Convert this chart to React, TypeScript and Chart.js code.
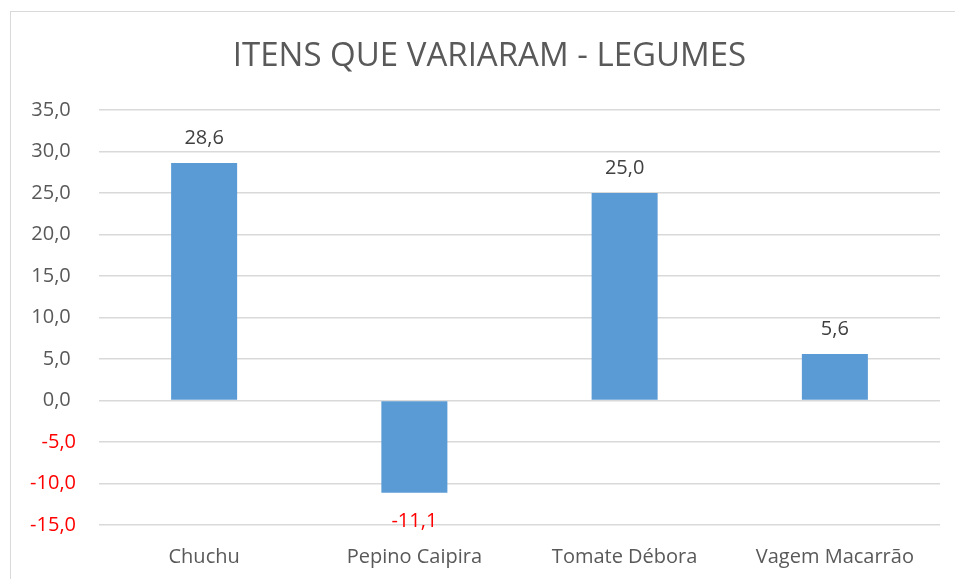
import React, { useEffect, useRef } from "react";
import { Chart, registerables } from "chart.js";

Chart.register(...registerables);

const TITLE = "ITENS QUE VARIARAM - LEGUMES";
const categories = ["Chuchu", "Pepino Caipira", "Tomate Débora", "Vagem Macarrão"];
const values = [28.6, -11.1, 25.0, 5.6];
const yMin = -15;
const yMax = 35;
const yStep = 5;

const FONT = "'Open Sans', sans-serif";
const fmt = (v: number) => v.toFixed(1).replace(".", ",");

const dataLabelPlugin = {
  id: "dataLabels",
  afterDatasetsDraw(chart: any) {
    const ctx = chart.ctx;
    const meta = chart.getDatasetMeta(0);
    ctx.save();
    ctx.font = `20px ${FONT}`;
    ctx.textAlign = "center";
    ctx.textBaseline = "middle";
    meta.data.forEach((bar: any, i: number) => {
      const v = values[i];
      const neg = v < 0;
      ctx.fillStyle = neg ? "#FF0000" : "#404040";
      const y = neg ? bar.y + 29 : bar.y - 25;
      ctx.fillText(fmt(v), bar.x, y);
    });
    ctx.restore();
  },
};

// Title drawn centred over the whole chart frame
const titlePlugin = {
  id: "frameTitle",
  afterDraw(chart: any) {
    const ctx = chart.ctx;
    ctx.save();
    ctx.font = `33px ${FONT}`;
    ctx.fillStyle = "#595959";
    ctx.textAlign = "center";
    ctx.textBaseline = "middle";
    const area = chart.chartArea;
    ctx.fillText(TITLE, (area.left + area.right) / 2 - 30, area.top - 53);
    ctx.restore();
  },
};

export default function App() {
  const ref = useRef<HTMLCanvasElement>(null);
  useEffect(() => {
    if (!ref.current) return;
    const chart = new Chart(ref.current, {
      type: "bar",
      data: {
        labels: categories,
        datasets: [
          {
            data: values,
            backgroundColor: "#5B9BD5",
            borderWidth: 0,
            barPercentage: 0.314,
            categoryPercentage: 1,
          },
        ],
      },
      options: {
        animation: false,
        responsive: false,
        maintainAspectRatio: false,
        layout: { padding: { left: 10, right: 15, top: 110, bottom: 0 } },
        plugins: {
          legend: { display: false },
          tooltip: { enabled: false },
          title: { display: false },
        },
        scales: {
          x: {
            grid: { display: false, drawTicks: false },
            border: { display: false },
            ticks: {
              color: "#595959",
              font: { family: FONT, size: 20 },
              padding: 20,
            },
            afterFit: (s: any) => {
              s.height = 54;
            },
          },
          y: {
            min: yMin,
            max: yMax,
            grid: { color: "#D9D9D9", lineWidth: 1.5, drawTicks: false },
            border: { display: false },
            ticks: {
              stepSize: yStep,
              padding: 23,
              font: { family: FONT, size: 20 },
              color: (c: any) => (c.tick && c.tick.value < 0 ? "#FF0000" : "#595959"),
              callback: (v: any) => (Number(v) < 0 ? fmt(Number(v)) : fmt(Number(v)) + " "),
            },
            afterFit: (s: any) => {
              s.width = 89;
            },
          },
        },
      },
      plugins: [dataLabelPlugin, titlePlugin],
    });
    return () => chart.destroy();
  }, []);
  return (
    <div style={{ position: "fixed", left: 0, top: 0, width: 955, height: 579, background: "#fff", overflow: "hidden" }}>
      <canvas ref={ref} width={955} height={579} style={{ position: "absolute", left: 0, top: 0 }} />
      <div
        style={{
          position: "absolute",
          left: 10,
          top: 11,
          width: 960,
          height: 580,
          borderLeft: "1.5px solid #D9D9D9",
          borderTop: "1.5px solid #D9D9D9",
          pointerEvents: "none",
        }}
      />
    </div>
  );
}
